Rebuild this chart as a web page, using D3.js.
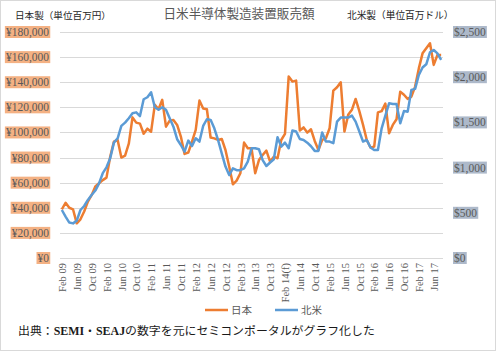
<!DOCTYPE html>
<html>
<head>
<meta charset="utf-8">
<script src="https://cdn.jsdelivr.net/npm/d3@7"></script>
<style>
  body { margin: 0; background: #fff; }
  svg { display: block; }
</style>
</head>
<body>
<svg id="chart" width="497" height="352"></svg>
<script>
// monthly sales, Feb 2009 .. Aug 2017
let months = d3.timeMonth.range(new Date(2009, 1, 1), new Date(2017, 8, 1))

// 日本製 (百万円)
let japan = [
  38800, 44000, 40000, 38800, 27600, 30800, 37000, 45000, 50000, 57000,
  59500, 62000, 64000, 80700, 92700, 94000, 80000, 81500, 91000, 112000,
  107800, 107000, 99000, 103000, 100600, 122000, 118500, 126000, 104600, 109400,
  110000, 106000, 96700, 82900, 84000, 92700, 102000, 125400, 119000, 118500,
  96000, 95300, 94000, 94800, 86000, 72800, 58700, 61600, 67500, 91900,
  87400, 87400, 67500, 78000, 82000, 85500, 76800, 80700, 79400, 94000,
  98800, 144500, 140500, 141300, 101500, 104000, 99900, 102500, 93200, 86000,
  94000, 95300, 103300, 133300, 136000, 140000, 100700, 114000, 118000, 126700,
  117000, 106000, 94000, 88000, 88700, 116000, 117000, 123000, 99300, 106000,
  110500, 132500, 130000, 126700, 128500, 136500, 151000, 163000, 167000, 171000,
  153800, 161700, 161700
]

// 北米製 (百万ドル)
let northAmerica = [
  531, 458, 392, 383, 413, 531, 575, 642, 697, 746,
  826, 938, 1003, 1103, 1276, 1324, 1461, 1497, 1546, 1601,
  1611, 1570, 1756, 1778, 1833, 1667, 1639, 1667, 1639, 1546,
  1453, 1314, 1250, 1176, 1299, 1239, 1324, 1288, 1461, 1535,
  1528, 1435, 1306, 1158, 1011, 917, 992, 972, 972, 992,
  1067, 1214, 1214, 1203, 1083, 1018, 1056, 1092, 1335, 1232,
  1276, 1214, 1410, 1399, 1317, 1306, 1276, 1236, 1185, 1185,
  1389, 1288, 1288, 1270, 1508, 1553, 1553, 1553, 1575, 1508,
  1399, 1288, 1306, 1222, 1194, 1194, 1435, 1575, 1711, 1704,
  1704, 1490, 1625, 1619, 1860, 1871, 2025, 2107, 2143, 2276,
  2301, 2264, 2192
]

let tickLabels = [
  "Feb 09", "Jun 09", "Oct 09", "Feb 10", "Jun 10", "Oct 10", "Feb 11",
  "Jun 11", "Oct 11", "Feb 12", "Jun 12", "Oct 12", "Feb 13", "Jun 13",
  "Oct 13", "Feb 14(f)", "Jun 14", "Oct 14", "Feb 15", "Jun 15", "Oct 15",
  "Feb 16", "Jun 16", "Oct 16", "Feb 17", "Jun 17"
]
let yenTicks = d3.range(0, 180001, 20000)
let dollarTicks = d3.range(0, 2501, 500)

let plot = {left: 60, right: 443, top: 32, bottom: 258}
let colors = {japan: "#ED7D31", na: "#5B9BD5"}
let serif = "'Liberation Serif', 'DejaVu Serif', serif"
let cjk = "'Noto Sans CJK JP', 'Noto Sans', sans-serif"

let svg = d3.select("#chart")

function make_scales() {
  return {
    x: d3.scalePoint()
      .domain(d3.range(months.length))
      .range([plot.left, plot.right])
      .padding(0.5),
    yen: d3.scaleLinear()
      .domain([0, 180000])
      .range([plot.bottom, plot.top]),
    usd: d3.scaleLinear()
      .domain([0, 2500])
      .range([plot.bottom, plot.top])
  }
}

function draw_frame() {
  svg.append("rect")
    .attr("x", 0.5).attr("y", 0.5)
    .attr("width", 495).attr("height", 350)
    .attr("fill", "#fff")
    .attr("stroke", "#d9d9d9")
}

function draw_grid(scales) {
  svg.append("g")
    .selectAll("line")
    .data(yenTicks).enter()
    .append("line")
    .attr("x1", plot.left)
    .attr("x2", plot.right)
    .attr("y1", d => Math.round(scales.yen(d)) + 0.5)
    .attr("y2", d => Math.round(scales.yen(d)) + 0.5)
    .attr("stroke", "#d9d9d9")
}

// tick label with a filled box behind it
function boxed_labels(g, ticks, scale, fmt, x, anchor, fill) {
  let items = g.selectAll("g")
    .data(ticks).enter()
    .append("g")
    .attr("transform", d => `translate(${x},${scale(d)})`)

  items.append("rect").attr("fill", fill)

  items.append("text")
    .attr("text-anchor", anchor)
    .attr("dy", "0.35em")
    .attr("font-family", serif)
    .attr("font-size", 11.5)
    .attr("fill", "#595959")
    .text(fmt)

  items.each(function() {
    let box = d3.select(this).select("text").node().getBBox()
    d3.select(this).select("rect")
      .attr("x", box.x - 1)
      .attr("y", -6)
      .attr("width", box.width + 2)
      .attr("height", 12)
  })
}

function draw_axes(scales) {
  let comma = d3.format(",")
  boxed_labels(svg.append("g"), yenTicks, scales.yen,
    d => "¥" + comma(d), 49, "end", "#F4B183")
  boxed_labels(svg.append("g"), dollarTicks, scales.usd,
    d => "$" + comma(d), 454, "start", "#ADB9CA")

  let xAxis = d3.axisBottom(scales.x)
    .tickValues(d3.range(0, months.length, 4))
    .tickFormat((d, i) => tickLabels[i])
    .tickSize(0)

  let gx = svg.append("g")
    .attr("transform", `translate(0,${plot.bottom})`)
    .call(xAxis)
  gx.select(".domain").remove()
  gx.selectAll("text")
    .attr("font-family", serif)
    .attr("font-size", 10.5)
    .attr("fill", "#595959")
    .attr("text-anchor", "end")
    .attr("transform", "rotate(-90)")
    .attr("x", -5)
    .attr("y", 0)
    .attr("dy", "0.35em")
}

function draw_lines(scales) {
  let line = (values, y) => d3.line()
    .x((d, i) => scales.x(i))
    .y(d => y(d))(values)

  svg.append("path")
    .attr("d", line(japan, scales.yen))
    .attr("fill", "none")
    .attr("stroke", colors.japan)
    .attr("stroke-width", 2.5)
    .attr("stroke-linejoin", "round")

  svg.append("path")
    .attr("d", line(northAmerica, scales.usd))
    .attr("fill", "none")
    .attr("stroke", colors.na)
    .attr("stroke-width", 2.5)
    .attr("stroke-linejoin", "round")
}

function draw_texts() {
  svg.append("text")
    .attr("x", 239).attr("y", 18)
    .attr("text-anchor", "middle")
    .attr("font-family", cjk)
    .attr("font-size", 12.6)
    .attr("fill", "#595959")
    .text("日米半導体製造装置販売額")

  svg.append("text")
    .attr("x", 15).attr("y", 19)
    .attr("font-family", cjk)
    .attr("font-size", 9.6)
    .attr("fill", "#262626")
    .text("日本製（単位百万円）")

  svg.append("text")
    .attr("x", 347).attr("y", 19)
    .attr("font-family", cjk)
    .attr("font-size", 9.7)
    .attr("fill", "#262626")
    .text("北米製（単位百万ドル）")

  let legend = [
    {name: "日本", color: colors.japan, x: 205},
    {name: "北米", color: colors.na, x: 275}
  ]
  let lg = svg.append("g")
    .selectAll("g")
    .data(legend).enter()
    .append("g")
    .attr("transform", d => `translate(${d.x},310)`)
  lg.append("line")
    .attr("x1", 0).attr("x2", 23)
    .attr("stroke", d => d.color)
    .attr("stroke-width", 2.5)
  lg.append("text")
    .attr("x", 26).attr("dy", "0.35em")
    .attr("font-family", cjk)
    .attr("font-size", 10.5)
    .attr("fill", "#595959")
    .text(d => d.name)

  let src = svg.append("text")
    .attr("x", 18).attr("y", 335)
    .attr("font-family", cjk)
    .attr("font-size", 11.9)
    .attr("fill", "#1a1a1a")
  src.append("tspan").text("出典：")
  src.append("tspan")
    .attr("font-family", serif)
    .attr("font-weight", "bold")
    .text("SEMI")
  src.append("tspan").text("・")
  src.append("tspan")
    .attr("font-family", serif)
    .attr("font-weight", "bold")
    .text("SEAJ")
  src.append("tspan").text("の数字を元にセミコンポータルがグラフ化した")
}

let scales = make_scales()
draw_frame()
draw_grid(scales)
draw_axes(scales)
draw_lines(scales)
draw_texts()
</script>
</body>
</html>
